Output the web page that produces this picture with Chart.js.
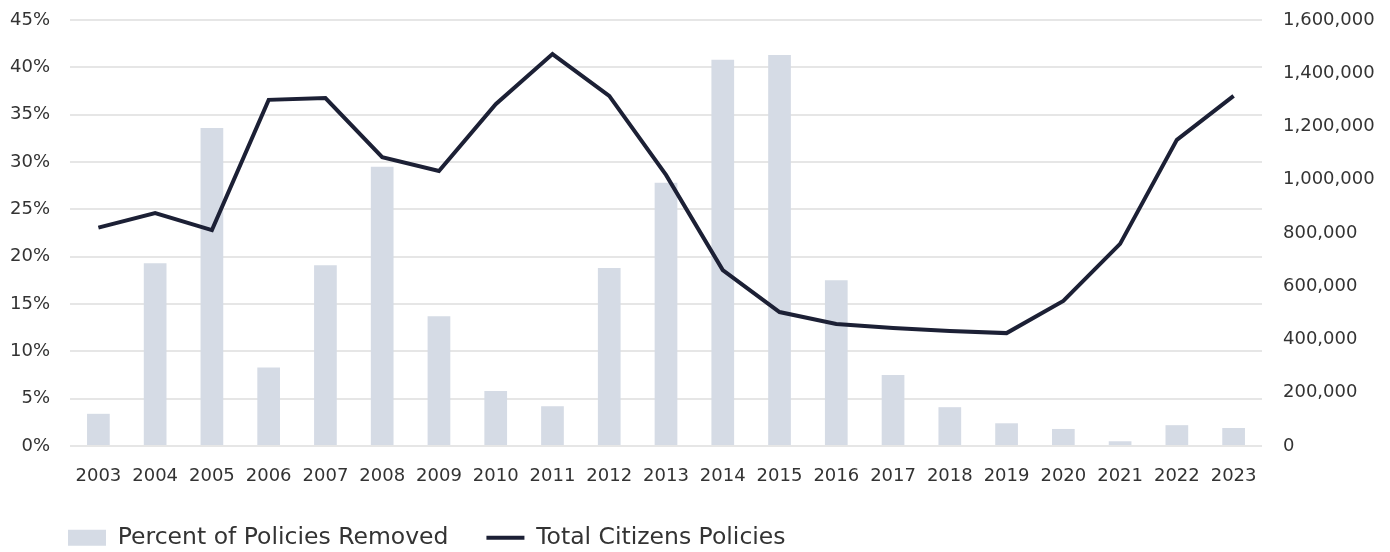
<!DOCTYPE html>
<html>
<head>
<meta charset="utf-8">
<script src="https://cdn.jsdelivr.net/npm/chart.js@4/dist/chart.umd.min.js"></script>
<style>
html,body{margin:0;padding:0;background:#fff;}
#wrap{width:1390px;height:552px;position:relative;}
</style>
</head>
<body>
<div id="wrap"><canvas id="c" width="1390" height="552"></canvas></div>
<script>
const years = ['2003','2004','2005','2006','2007','2008','2009','2010','2011','2012','2013','2014','2015','2016','2017','2018','2019','2020','2021','2022','2023'];
const percentRemoved = [3.4,19.3,33.6,8.3,19.1,29.5,13.7,5.8,4.2,18.8,27.8,40.8,41.3,17.5,7.5,4.1,2.4,1.8,0.5,2.2,1.9];
const totalPolicies = [820000,875000,811000,1300000,1307000,1085000,1033000,1284000,1472000,1315000,1018000,661000,503000,458000,443000,432000,424000,545000,759000,1150000,1315000];
const seriesNames = ['Percent of Policies Removed','Total Citizens Policies'];

const FONT = "'DejaVu Sans', sans-serif";
const TEXT = '#333333';

const legendTweak = {
  id: 'legendTweak',
  beforeLayout(chart) {
    const lg = chart.legend;
    if (lg && !lg._patched) {
      const f = lg.fit;
      lg.fit = function () { f.call(this); if (this.isHorizontal()) this.height = 64; };
      lg._patched = true;
    }
  },
  beforeDraw(chart) { if (chart.legend) chart.legend.left = 30; }
};

const noPad = (w) => (s) => { s.width = w; s.paddingTop = 0; s.paddingBottom = 0; };

new Chart(document.getElementById('c'), {
  data: {
    labels: years,
    datasets: [
      {
        type: 'line',
        label: seriesNames[1],
        data: totalPolicies,
        yAxisID: 'y1',
        borderColor: '#1c2035',
        backgroundColor: '#1c2035',
        borderWidth: 4,
        pointRadius: 0,
        tension: 0,
        pointStyle: 'line',
        order: 0
      },
      {
        type: 'bar',
        label: seriesNames[0],
        data: percentRemoved,
        yAxisID: 'y',
        backgroundColor: '#d5dbe5',
        borderWidth: 0,
        categoryPercentage: 1,
        barPercentage: 0.4,
        pointStyle: 'rect',
        order: 1
      }
    ]
  },
  plugins: [legendTweak],
  options: {
    responsive: false,
    animation: false,
    layout: { padding: { left: 0, right: 0, top: 20, bottom: 0 } },
    plugins: {
      tooltip: { enabled: false },
      legend: {
        position: 'bottom',
        align: 'start',
        reverse: true,
        labels: {
          font: { family: FONT, size: 23.5 },
          color: TEXT,
          usePointStyle: true,
          pointStyleWidth: 38,
          boxHeight: 16,
          padding: 38
        }
      }
    },
    scales: {
      x: {
        afterFit: (s) => { s.height = 42; },
        grid: { display: false, drawTicks: false },
        border: { display: false },
        ticks: { font: { family: FONT, size: 18 }, color: TEXT, padding: 20, maxRotation: 0 }
      },
      y: {
        position: 'left',
        min: 0, max: 45,
        afterFit: noPad(70),
        grid: { color: '#e6e6e6', lineWidth: 2, drawTicks: false },
        border: { display: false },
        ticks: { stepSize: 5, font: { family: FONT, size: 18 }, color: TEXT, padding: 20, callback: v => v + '%' }
      },
      y1: {
        position: 'right',
        min: 0, max: 1600000,
        afterFit: noPad(128),
        grid: { display: false, drawTicks: false },
        border: { display: false },
        ticks: { stepSize: 200000, font: { family: FONT, size: 18 }, color: TEXT, padding: 21,
          callback: v => v.toLocaleString('en-US') }
      }
    }
  }
});
</script>
</body>
</html>
